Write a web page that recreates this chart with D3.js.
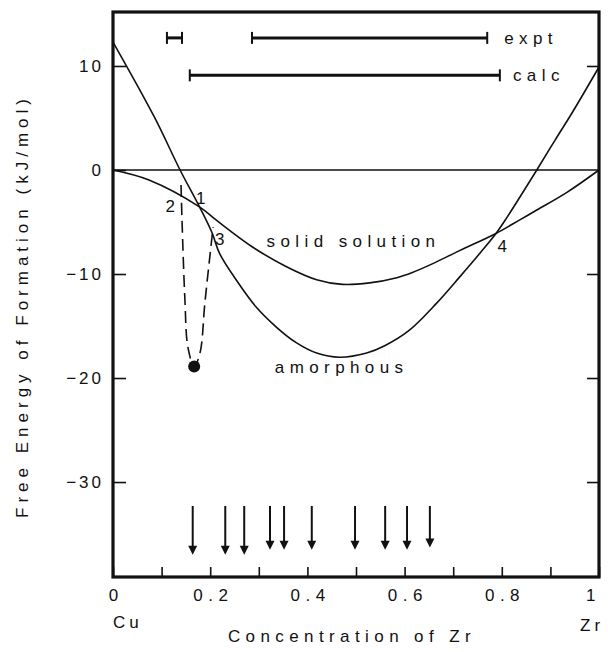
<!DOCTYPE html>
<html><head><meta charset="utf-8">
<script src="https://cdn.jsdelivr.net/npm/d3@7"></script>
<style>
body{margin:0;background:#fff}
svg{display:block}
text{font-family:"Liberation Sans",Arial,Helvetica,sans-serif;fill:#111}
</style>
</head><body>
<svg id="chart" width="608" height="652"></svg>
<script>
// ---- data ----
const xTickValues = [0,0.1,0.2,0.3,0.4,0.5,0.6,0.7,0.8,0.9,1];
const xTickLabels = ["0","","0.2","","0.4","","0.6","","0.8","","1"];
const yTickValues = [10,0,-10,-20,-30];
const yTickLabels = ["10","0","\u221210","\u221220","\u221230"];

const solidC = [0, 0.074, 0.178, 0.212, 0.287, 0.357, 0.419, 0.472, 0.528, 0.584, 0.616, 0.658, 0.713, 0.788, 0.837, 0.872, 0.934, 1];
const solidG = [0, -0.96, -3.55, -4.8, -7.4, -9.3, -10.55, -11.0, -10.85, -10.35, -9.85, -9.0, -7.75, -6.1, -4.8, -3.85, -2.15, 0];

const amorphC = [0, 0.085, 0.138, 0.178, 0.204, 0.219, 0.254, 0.295, 0.336, 0.377, 0.419, 0.466, 0.522, 0.559, 0.61, 0.666, 0.713, 0.755, 0.788, 0.81, 0.872, 0.91, 0.946, 1];
const amorphG = [12.3, 5.1, 0, -3.55, -6.06, -8.0, -10.6, -13.2, -15.1, -16.6, -17.6, -18.0, -17.6, -16.9, -15.4, -12.8, -10.3, -8.0, -6.1, -4.6, 0, 2.9, 5.6, 9.9];

const dashC = [0.140, 0.142, 0.148, 0.154, 0.167, 0.179, 0.189, 0.200, 0.206];
const dashG = [-1.44, -4.8, -12.5, -17.0, -18.9, -17.6, -12.8, -8.0, -5.5];
const dotC = 0.167, dotG = -18.9;

const exptRanges = [[0.111, 0.142], [0.286, 0.770]];
const exptG = 12.7;
const calcRange = [0.158, 0.796];
const calcG = 9.1;

const arrowC = [0.164, 0.231, 0.270, 0.323, 0.352, 0.409, 0.498, 0.560, 0.605, 0.652];
const arrowTopG = -32.3;
const arrowTipG = [-37.0, -37.0, -37.0, -36.5, -36.5, -36.5, -36.5, -36.5, -36.5, -36.3];

const pointLabels = ["1", "2", "3", "4"];
const pointLabelC = [0.171, 0.108, 0.210, 0.791];
const pointLabelG = [-3.3, -4.05, -7.2, -7.9];

const curveLabels = ["solid solution", "amorphous", "expt", "calc"];
const curveLabelC = [0.316, 0.333, 0.805, 0.823];
const curveLabelG = [-7.4, -19.5, 12.1, 8.6];

const xTitle = "Concentration of Zr";
const yTitle = "Free Energy of Formation  (kJ/mol)";
const endLabels = ["Cu", "Zr"];

// ---- scales ----
const svg = d3.select("#chart");
const x = d3.scaleLinear().domain([0, 1]).range([113, 599]);
const y = d3.scaleLinear().domain([-39.13, 15.19]).range([577, 12]);

const line = d3.line().x(d => x(d[0])).y(d => y(d[1])).curve(d3.curveCatmullRom.alpha(0.5));

// zero line
svg.append("line").attr("x1", x(0)).attr("x2", x(1)).attr("y1", y(0)).attr("y2", y(0))
  .attr("stroke", "#111").attr("stroke-width", 1.4);

// curves
svg.append("path").datum(d3.zip(solidC, solidG)).attr("d", line)
  .attr("fill", "none").attr("stroke", "#111").attr("stroke-width", 1.6);
svg.append("path").datum(d3.zip(amorphC, amorphG)).attr("d", line)
  .attr("fill", "none").attr("stroke", "#111").attr("stroke-width", 1.6);
svg.append("path").datum(d3.zip(dashC, dashG)).attr("d", line)
  .attr("fill", "none").attr("stroke", "#111").attr("stroke-width", 1.6)
  .attr("stroke-dasharray", "12,6");
svg.append("circle").attr("cx", x(dotC)).attr("cy", y(dotG)).attr("r", 6).attr("fill", "#111");

// error bars
function hbar(r, g) {
  const gg = svg.append("g");
  gg.append("line").attr("x1", x(r[0])).attr("x2", x(r[1])).attr("y1", y(g)).attr("y2", y(g))
    .attr("stroke", "#111").attr("stroke-width", 3);
  r.forEach(v => gg.append("line").attr("x1", x(v)).attr("x2", x(v))
    .attr("y1", y(g) - 6).attr("y2", y(g) + 6).attr("stroke", "#111").attr("stroke-width", 2));
}
exptRanges.forEach(r => hbar(r, exptG));
hbar(calcRange, calcG);

// arrows
arrowC.forEach((c, i) => {
  const xc = x(c), y0 = y(arrowTopG), y1 = y(arrowTipG[i]);
  svg.append("line").attr("x1", xc).attr("x2", xc).attr("y1", y0).attr("y2", y1 - 6)
    .attr("stroke", "#111").attr("stroke-width", 2);
  svg.append("path").attr("d", `M${xc - 4.5},${y1 - 9}L${xc + 4.5},${y1 - 9}L${xc},${y1}Z`).attr("fill", "#111");
});

// axes
const ax = svg.append("g").attr("transform", `translate(0,${y.range()[0]})`)
  .call(d3.axisBottom(x).tickValues(xTickValues).tickFormat((d, i) => xTickLabels[i])
    .tickSizeInner(-10).tickSizeOuter(0).tickPadding(12));
ax.select(".domain").remove();
ax.selectAll("line").attr("stroke", "#111").attr("stroke-width", 1.6);
ax.selectAll("text").attr("font-size", 17).attr("letter-spacing", 5.5)
  .attr("dx", (d, i) => i === xTickValues.length - 1 ? -6 : 2.7).attr("fill", "#111");

const ay = svg.append("g").attr("transform", `translate(${x.range()[0]},0)`)
  .call(d3.axisLeft(y).tickValues(yTickValues).tickFormat((d, i) => yTickLabels[i])
    .tickSizeInner(-13).tickSizeOuter(0).tickPadding(9));
ay.select(".domain").remove();
ay.selectAll("line").attr("stroke", "#111").attr("stroke-width", 1.6);
ay.selectAll("text").attr("font-size", 17).attr("letter-spacing", 3).attr("fill", "#111");

const ar = svg.append("g").attr("transform", `translate(${x.range()[1]},0)`)
  .call(d3.axisRight(y).tickValues(yTickValues.filter(v => v !== 0)).tickFormat("")
    .tickSizeInner(-12).tickSizeOuter(0));
ar.select(".domain").remove();
ar.selectAll("line").attr("stroke", "#111").attr("stroke-width", 1.6);

// frame
svg.append("rect").attr("x", x(0)).attr("y", y.range()[1]).attr("width", x(1) - x(0))
  .attr("height", y.range()[0] - y.range()[1]).attr("fill", "none").attr("stroke", "#111").attr("stroke-width", 3.2);

// point labels
pointLabels.forEach((t, i) => {
  svg.append("text").attr("x", x(pointLabelC[i])).attr("y", y(pointLabelG[i]))
    .attr("font-size", 17).text(t);
});
// curve labels
curveLabels.forEach((t, i) => {
  svg.append("text").attr("x", x(curveLabelC[i])).attr("y", y(curveLabelG[i]))
    .attr("font-size", 17).attr("letter-spacing", 5.4).text(t);
});

// titles
svg.append("text").attr("x", 352).attr("y", 642).attr("text-anchor", "middle")
  .attr("font-size", 17).attr("letter-spacing", 5.4).text(xTitle);
svg.append("text").attr("x", 113).attr("y", 628).attr("font-size", 17).attr("letter-spacing", 4).text(endLabels[0]);
svg.append("text").attr("x", 580).attr("y", 631).attr("font-size", 17).attr("letter-spacing", 4).text(endLabels[1]);
svg.append("text").attr("transform", "translate(28,306) rotate(-90)").attr("text-anchor", "middle")
  .attr("font-size", 17).attr("letter-spacing", 5).text(yTitle);
</script>
</body></html>
